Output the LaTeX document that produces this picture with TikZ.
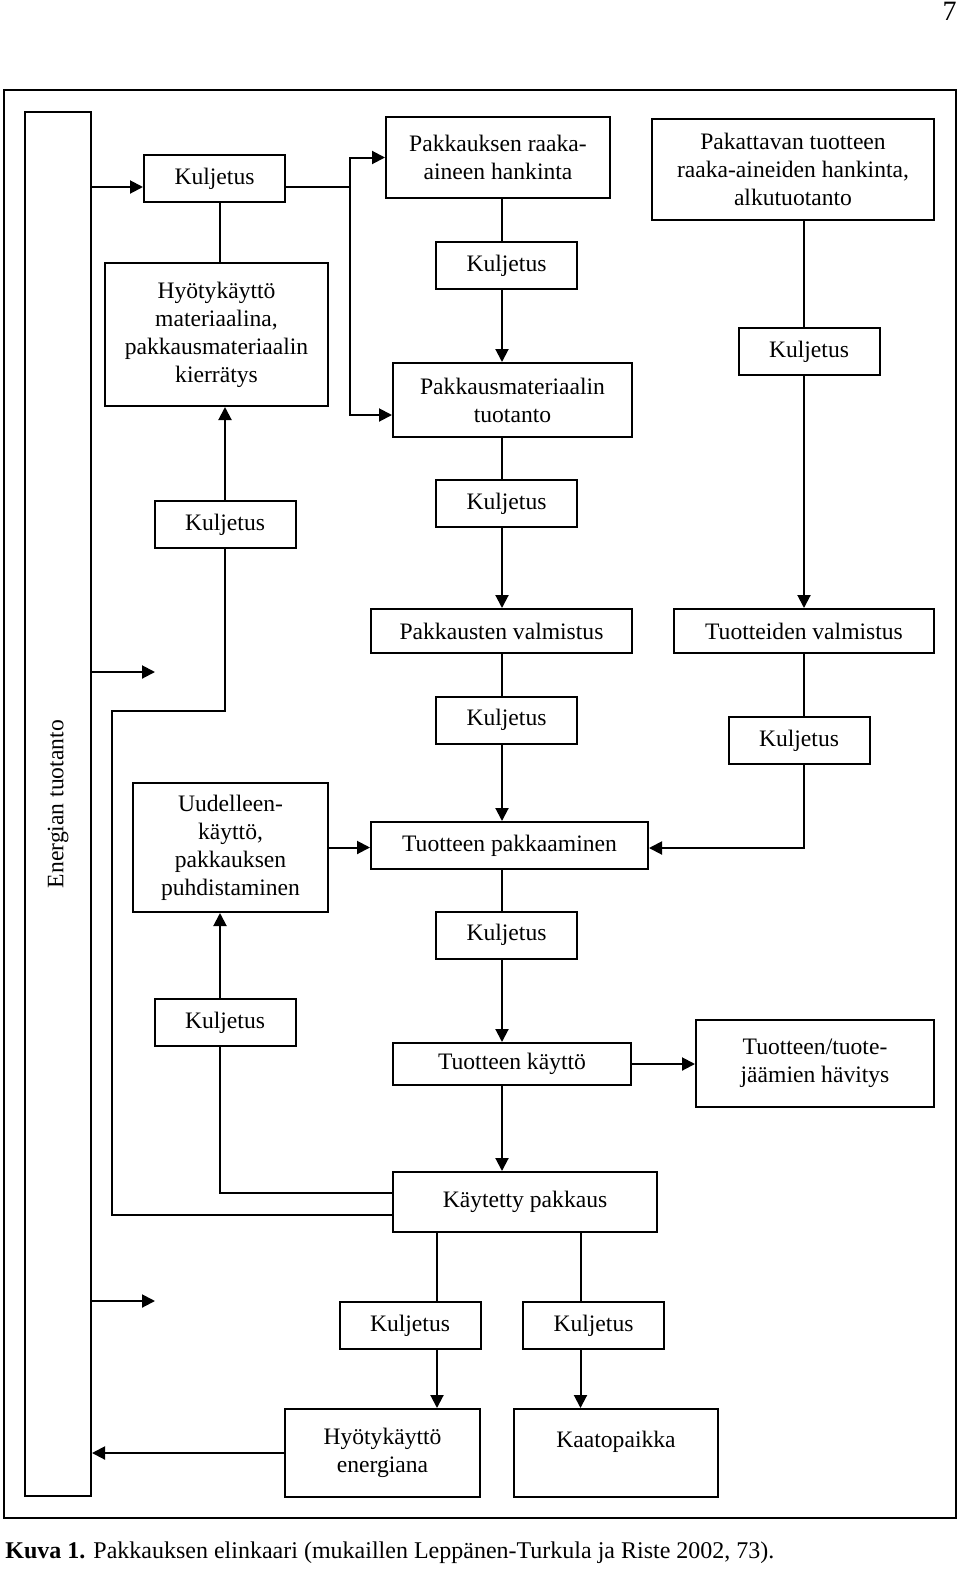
\documentclass[tikz,border=0pt]{standalone}
\usepackage{fontspec}
\setmainfont{Liberation Serif}
\usetikzlibrary{arrows.meta,positioning}

\begin{document}
\begin{tikzpicture}[
    x=0.5pt, y=-0.5pt,
    font=\fontsize{11.8}{14}\selectfont,
    box/.style={rectangle, draw, line width=1pt, inner sep=2pt, align=center},
    kbox/.style={box, minimum width=70.5pt, minimum height=23.5pt},
    arrow/.style={-{Triangle[length=6.5pt,width=6.5pt]}, line width=1pt},
    link/.style={line width=1pt}
]
\useasboundingbox (0,0) rectangle (960,1569);
\draw[line width=1pt] (4,90) rectangle (956,1518);
\node[font=\fontsize{14}{16}\selectfont, inner sep=0pt, anchor=north east] (pagenum) at (957,2) {7};

% left column
\node[box, minimum width=33pt, minimum height=692pt] (energy) at (58,804) {\rotatebox{90}{Energian tuotanto}};
\node[kbox] (kulj1) at (214.5,178.5) {Kuljetus};
\node[box, minimum width=111.5pt, minimum height=71.5pt] (hyotymat) at (216.5,334.5) {Hyötykäyttö\\materiaalina,\\pakkausmateriaalin\\kierrätys};
\node[kbox] (kulj2) at (225,524.5) {Kuljetus};
\node[box, minimum width=97.5pt, minimum height=64.5pt] (uudell) at (230.5,847.5) {Uudelleen-\\käyttö,\\pakkauksen\\puhdistaminen};
\node[kbox] (kulj3) at (225,1022.5) {Kuljetus};

% middle column
\node[box, minimum width=112pt, minimum height=40.5pt] (raaka) at (498,157.5) {Pakkauksen raaka-\\aineen hankinta};
\node[kbox] (kuljA) at (506.5,265.5) {Kuljetus};
\node[box, minimum width=119.5pt, minimum height=37pt] (pmat) at (512.5,400) {Pakkausmateriaalin\\tuotanto};
\node[kbox] (kuljB) at (506.5,503.5) {Kuljetus};
\node[box, minimum width=130.5pt, minimum height=22pt] (pvalm) at (501.5,631) {Pakkausten valmistus};
\node[kbox] (kuljE) at (506.5,720) {Kuljetus};
\node[box, minimum width=138.5pt, minimum height=23.5pt] (pakk) at (509.5,845.5) {Tuotteen pakkaaminen};
\node[kbox] (kuljF) at (506.5,935) {Kuljetus};
\node[box, minimum width=119pt, minimum height=21pt] (kaytto) at (512,1064) {Tuotteen käyttö};
\node[box, minimum width=132pt, minimum height=30pt] (kaytetty) at (525,1202) {Käytetty pakkaus};
\node[kbox] (kuljG) at (410,1325.5) {Kuljetus};
\node[kbox] (kuljH) at (593.5,1325.5) {Kuljetus};
\node[box, minimum width=97.5pt, minimum height=44pt] (hyotyen) at (382.5,1453) {Hyötykäyttö\\energiana};
\node[box, minimum width=102pt, minimum height=44pt] (kaato) at (616,1453) {Kaatopaikka\\\mbox{}};

% right column
\node[box, minimum width=141pt, minimum height=50.5pt] (pakattava) at (793,169.5) {Pakattavan tuotteen\\raaka-aineiden hankinta,\\alkutuotanto};
\node[kbox] (kuljC) at (809,351.5) {Kuljetus};
\node[box, minimum width=130pt, minimum height=22pt] (tvalm) at (804,631) {Tuotteiden valmistus};
\node[kbox] (kuljD) at (799,740.5) {Kuljetus};
\node[box, minimum width=119pt, minimum height=43.5pt] (havitys) at (815,1063.5) {Tuotteen/tuote-\\jäämien hävitys};

\node[anchor=west, inner sep=0pt, font=\fontsize{12}{14}\selectfont] (caption) at (5,1553) {\textbf{Kuva 1.} Pakkauksen elinkaari (mukaillen Leppänen-Turkula ja Riste 2002, 73).};

% line positions
\coordinate (c1) at (220,0);
\coordinate (c2) at (502,0);
\coordinate (c3) at (804,0);
\coordinate (c4) at (437,0);
\coordinate (c5) at (580.5,0);
\coordinate (split) at (350,187);
\coordinate (back) at (112,711);
\coordinate (free1) at (155,672);
\coordinate (free2) at (155,1301);

% energy outputs
\draw[arrow] (energy.east |- split) -- ([yshift=-4.25pt]kulj1.west);
\draw[arrow] (energy.east |- free1) -- (free1);
\draw[arrow] (energy.east |- free2) -- (free2);
\draw[arrow] (hyotyen.west) -- (hyotyen.west -| energy.east);

% packaging material branch
\draw[arrow] (kulj1.east |- split) -- (split) |- (raaka.west);
\draw[arrow] (split) |- ([yshift=-7.5pt]pmat.west);
\draw[link] (hyotymat.north -| c1) -- (kulj1.south -| c1);
\draw[arrow] (kulj2.north) -- (kulj2.north |- hyotymat.south);
\draw[arrow] (kulj3.north -| c1) -- (uudell.south -| c1);
\draw[arrow] (uudell.east) -- (uudell.east -| pakk.west);

% middle chain
\foreach \a/\b/\s in {raaka/kuljA/link, kuljA/pmat/arrow, pmat/kuljB/link, kuljB/pvalm/arrow,
    pvalm/kuljE/link, kuljE/pakk/arrow, pakk/kuljF/link, kuljF/kaytto/arrow, kaytto/kaytetty/arrow}
    \draw[\s] (\a.south -| c2) -- (\b.north -| c2);

% product chain
\draw[link] (pakattava.south -| c3) -- (kuljC.north -| c3);
\draw[arrow] (kuljC.south -| c3) -- (tvalm.north -| c3);
\draw[link] (tvalm.south -| c3) -- (kuljD.north -| c3);
\draw[arrow] (kuljD.south -| c3) |- ([yshift=-1.25pt]pakk.east);
\draw[arrow] (kaytto.east) -- (kaytto.east -| havitys.west);

% used packaging back to reuse and recycling
\draw[link] ([yshift=-6.5pt]kaytetty.west) -| (back) -| (kulj2.south);
\draw[link] ([yshift=4.5pt]kaytetty.west) -| (kulj3.south -| c1);

% end of life
\draw[link] (kaytetty.south -| c4) -- (kuljG.north -| c4);
\draw[arrow] (kuljG.south -| c4) -- (hyotyen.north -| c4);
\draw[link] (kaytetty.south -| c5) -- (kuljH.north -| c5);
\draw[arrow] (kuljH.south -| c5) -- (kaato.north -| c5);
\end{tikzpicture}
\end{document}
